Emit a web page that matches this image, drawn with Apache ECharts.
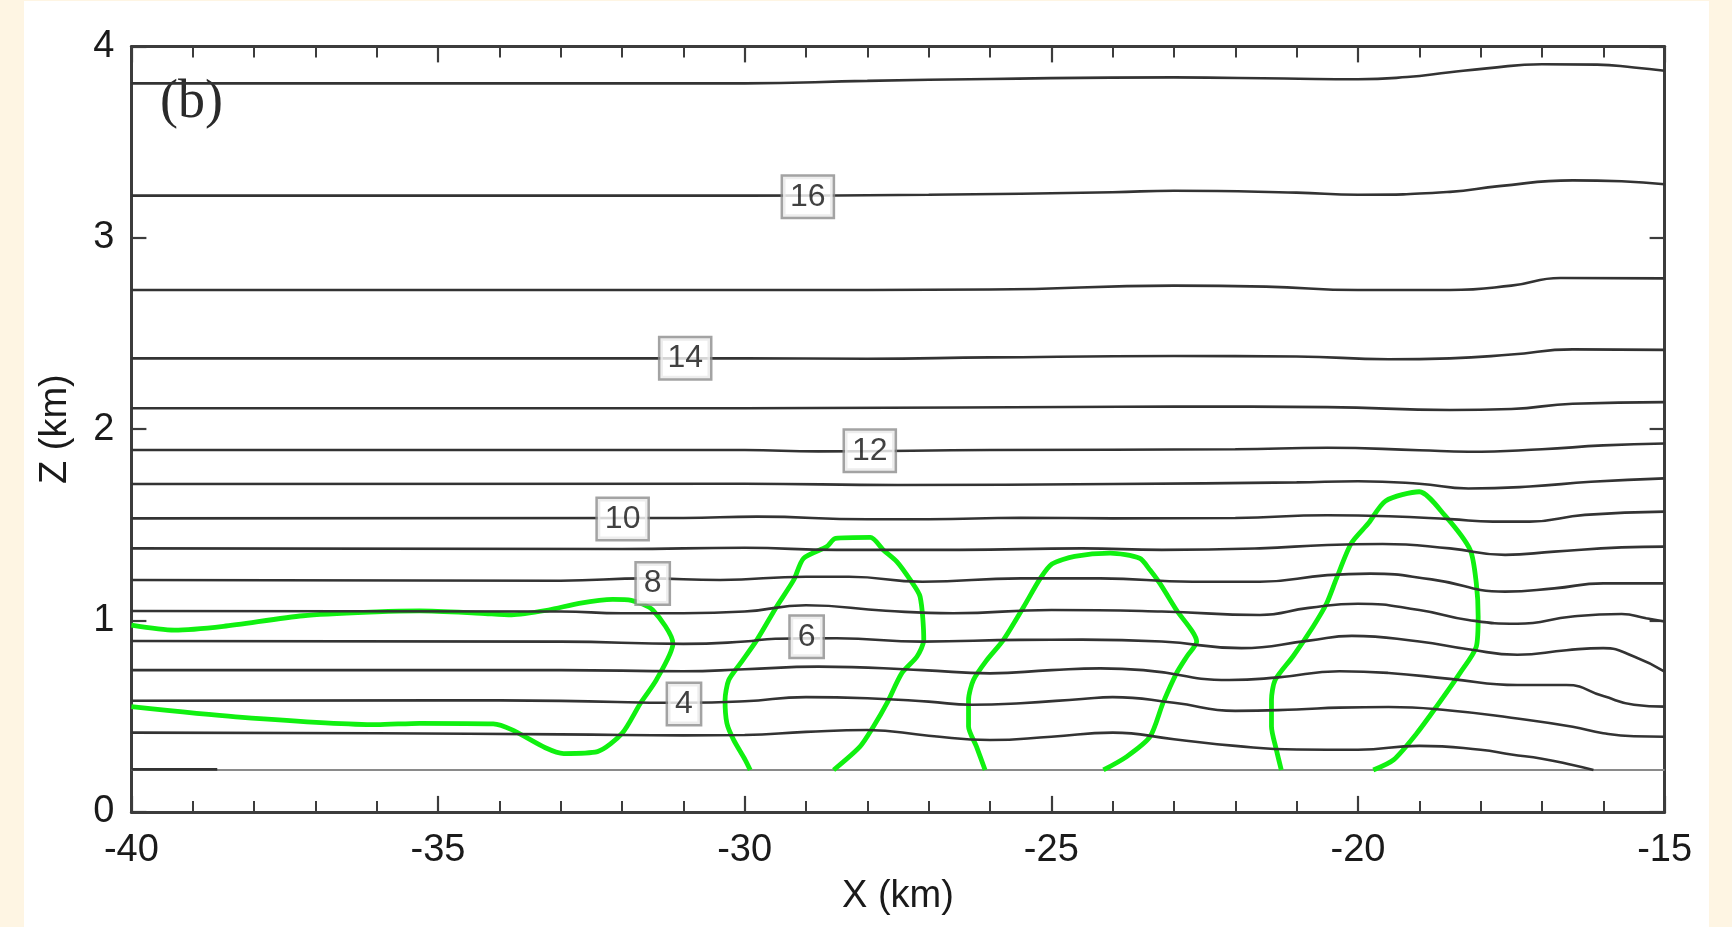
<!DOCTYPE html>
<html>
<head>
<meta charset="utf-8">
<script src="https://cdn.jsdelivr.net/npm/echarts@6/dist/echarts.min.js"></script>
<style>
html,body{margin:0;padding:0;width:1732px;height:927px;background:#fef5e3;overflow:hidden;}
#chart{position:absolute;left:24px;top:1px;width:1685px;height:926px;background:#ffffff;}
</style>
</head>
<body>
<div id="chart"></div>
<script>
// ---- axis ranges / ticks ----
const xRange = [-40, -15];
const zRange = [0, 4];

// ---- black contour lines: [x (km), z (km)] ----
const ground = [[-40,0.219],[-15,0.219]];
const c02 = [[-40,0.222],[-38.6,0.222]];
const c03 = [[-40,0.414],[-36,0.411],[-33,0.405],[-32,0.402],[-31,0.400],[-30,0.402],[-29,0.418],[-28,0.428],[-27,0.398],[-26,0.376],[-25,0.393],[-24,0.414],[-23,0.38],[-22,0.345],[-21,0.326],[-20,0.325],[-19,0.345],[-18,0.325],[-17.5,0.30],[-17,0.278],[-16.5,0.245],[-16.16,0.219]];
const c04 = [[-40,0.581],[-35,0.583],[-33,0.58],[-31,0.57],[-30,0.578],[-29,0.60],[-28,0.594],[-27,0.576],[-26.3,0.56],[-25.5,0.568],[-24.5,0.59],[-24,0.60],[-23,0.57],[-22,0.528],[-21,0.535],[-20.3,0.545],[-19.5,0.548],[-18.5,0.53],[-17.5,0.492],[-16.5,0.445],[-16,0.411],[-15.5,0.395],[-15,0.393]];
const c05 = [[-40,0.741],[-33,0.741],[-31,0.735],[-30,0.745],[-28.8,0.759],[-27.1,0.741],[-26,0.724],[-25,0.741],[-24.2,0.75],[-23.5,0.741],[-22.1,0.689],[-21.3,0.703],[-20.3,0.735],[-19.5,0.726],[-18.5,0.695],[-17.4,0.663],[-16.6,0.663],[-16,0.605],[-15.5,0.56],[-15,0.55]];
const c06 = [[-40,0.893],[-33,0.89],[-31,0.878],[-30,0.89],[-29.5,0.905],[-28.5,0.907],[-27.1,0.89],[-25.5,0.899],[-24.5,0.90],[-23.2,0.89],[-21.9,0.856],[-20.8,0.895],[-20.1,0.92],[-19,0.89],[-18.2,0.85],[-17.4,0.821],[-16.6,0.845],[-16,0.856],[-15.5,0.812],[-15,0.733]];
const c07 = [[-40,1.05],[-33,1.047],[-32,1.038],[-31,1.038],[-30,1.047],[-29,1.08],[-27.7,1.051],[-26.6,1.038],[-25,1.055],[-23.2,1.047],[-21.6,1.029],[-20.8,1.066],[-20,1.088],[-19,1.055],[-18.2,1.003],[-17.4,0.983],[-16.5,1.021],[-15.7,1.034],[-15.3,1.012],[-15,0.995]];
const c08 = [[-40,1.212],[-33,1.208],[-31.6,1.22],[-30.4,1.212],[-29,1.229],[-28.3,1.229],[-27.1,1.203],[-25.5,1.22],[-24.2,1.22],[-22.7,1.203],[-21.6,1.203],[-20.5,1.237],[-19.8,1.245],[-18.8,1.215],[-17.6,1.151],[-16.8,1.168],[-16,1.194],[-15,1.194]];
const c09 = [[-40,1.377],[-32,1.374],[-30,1.38],[-28.5,1.369],[-26.5,1.369],[-24.5,1.377],[-23.2,1.369],[-21.6,1.377],[-20.5,1.395],[-19.6,1.40],[-18.5,1.377],[-17.6,1.343],[-16.8,1.36],[-15.7,1.382],[-15,1.386]];
const c10 = [[-40,1.534],[-31,1.536],[-29.8,1.543],[-28,1.529],[-27,1.529],[-25.5,1.537],[-24,1.534],[-22,1.536],[-20.5,1.55],[-19.5,1.545],[-18.5,1.53],[-17.8,1.517],[-17.2,1.517],[-16.3,1.552],[-15,1.569]];
const c11 = [[-40,1.713],[-30,1.715],[-27.5,1.708],[-24,1.713],[-21,1.722],[-20,1.728],[-19,1.715],[-18.2,1.69],[-17.2,1.70],[-16.2,1.725],[-15,1.743]];
const c12 = [[-40,1.891],[-30,1.891],[-28.8,1.884],[-26,1.891],[-22,1.895],[-20.5,1.903],[-19,1.89],[-18.2,1.882],[-17,1.895],[-16,1.915],[-15,1.925]];
const c13 = [[-40,2.109],[-30,2.109],[-23,2.118],[-20.5,2.115],[-18.5,2.10],[-17.5,2.105],[-16.5,2.133],[-15,2.141]];
const c14 = [[-40,2.370],[-30,2.370],[-28,2.368],[-26,2.375],[-23,2.382],[-21,2.38],[-19.5,2.365],[-18.5,2.37],[-17.5,2.39],[-16.5,2.417],[-15,2.414]];
const c15 = [[-40,2.727],[-30,2.727],[-26,2.73],[-23,2.75],[-21.5,2.745],[-20,2.727],[-18.5,2.727],[-17.5,2.75],[-16.7,2.79],[-15,2.788]];
const c16 = [[-40,3.22],[-30,3.22],[-27,3.225],[-24,3.238],[-23,3.246],[-21,3.236],[-20,3.225],[-18.5,3.24],[-17.7,3.27],[-16.5,3.30],[-15.7,3.295],[-15,3.28]];
const c17 = [[-40,3.807],[-30,3.807],[-28,3.82],[-26,3.83],[-23,3.838],[-21.2,3.832],[-20,3.828],[-19.2,3.84],[-18.5,3.865],[-17.9,3.885],[-17,3.907],[-16.1,3.905],[-15.5,3.89],[-15,3.873]];

// ---- green contours: [x (km), z (km)] ----
const g1 = [[-40,0.976],[-39.3,0.95],[-38.5,0.97],[-37.2,1.025],[-36,1.045],[-35.3,1.05],[-34.3,1.038],[-33.8,1.03],[-33.2,1.055],[-32.7,1.09],[-32.15,1.11],[-31.85,1.105],[-31.5,1.055],[-31.17,0.88],[-31.44,0.69],[-31.7,0.568],[-32.0,0.41],[-32.4,0.315],[-32.95,0.305],[-33.25,0.335],[-33.8,0.43],[-34.1,0.46],[-35.3,0.463],[-36,0.456],[-38.3,0.497],[-40,0.55]];
const g2 = [[-29.91,0.219],[-29.99,0.271],[-30.18,0.376],[-30.29,0.463],[-30.32,0.585],[-30.26,0.689],[-30.07,0.776],[-29.80,0.899],[-29.48,1.072],[-29.2,1.212],[-29.04,1.325],[-28.66,1.386],[-28.52,1.429],[-27.95,1.434],[-27.74,1.369],[-27.52,1.308],[-27.3,1.212],[-27.14,1.125],[-27.08,0.899],[-27.19,0.812],[-27.44,0.724],[-27.68,0.568],[-27.9,0.446],[-28.12,0.341],[-28.55,0.219]];
const g3 = [[-26.08,0.219],[-26.22,0.341],[-26.35,0.446],[-26.35,0.585],[-26.27,0.689],[-26.05,0.794],[-25.78,0.899],[-25.45,1.072],[-25.18,1.220],[-24.99,1.295],[-24.62,1.335],[-24.04,1.352],[-23.56,1.325],[-23.39,1.264],[-23.23,1.194],[-22.96,1.055],[-22.63,0.890],[-22.79,0.812],[-22.96,0.724],[-23.18,0.568],[-23.39,0.393],[-23.77,0.289],[-24.15,0.219]];
const g4 = [[-21.25,0.219],[-21.33,0.324],[-21.41,0.446],[-21.41,0.585],[-21.35,0.689],[-21.06,0.812],[-20.73,0.969],[-20.51,1.090],[-20.35,1.220],[-20.11,1.403],[-19.83,1.508],[-19.55,1.625],[-19.0,1.673],[-18.58,1.548],[-18.17,1.369],[-18.07,1.194],[-18.04,1.021],[-18.07,0.864],[-18.34,0.724],[-18.72,0.550],[-19.04,0.411],[-19.42,0.272],[-19.75,0.219]];

// ---- contour labels ----
const labelText = ['4', '6', '8', '10', '12', '14', '16'];
const labelX = [-30.99, -28.99, -31.5, -31.99, -27.96, -30.97, -28.97];
const labelZ = [0.564, 0.915, 1.194, 1.530, 1.887, 2.370, 3.214];

const FONT = '"Liberation Sans", Arial, Helvetica, sans-serif';
const AX = '#3c3c3c';
const blackLines = [c03, c04, c05, c06, c07, c08, c09, c10, c11, c12, c13, c14, c15, c16, c17];
const greenLines = [g1, g2, g3, g4];

const series = [];
series.push({type:'line', data: ground, showSymbol:false, silent:true, z:1,
  lineStyle:{color:'#8a8a8a', width:2.2}});
series.push({type:'line', data: c02, showSymbol:false, silent:true, z:3,
  lineStyle:{color:'#333333', width:2.6}});
greenLines.forEach(d => series.push({type:'line', data:d, smooth:0.25, showSymbol:false, silent:true, z:2,
  lineStyle:{color:'#10f010', width:4.8}}));
blackLines.forEach(d => series.push({type:'line', data:d, smooth:0.5, showSymbol:false, silent:true, z:3,
  lineStyle:{color:'#333333', width:2.6}}));
series.push({type:'scatter', symbolSize:0, silent:true, z:5,
  data: labelText.map((t,i) => [labelX[i], labelZ[i], t]),
  label:{show:true, position:'inside', formatter: p => p.value[2],
    fontFamily: FONT, fontSize:32, color:'#111111', backgroundColor:'#ffffff',
    borderColor:'#8c8c8c', borderWidth:2.5, padding:[3,7,1,7], lineHeight:36}});

const axisCommonX = {
  type:'value', min:xRange[0], max:xRange[1], interval:5,
  axisLine:{show:true, onZero:false, lineStyle:{color:AX, width:3}},
  axisTick:{show:true, inside:true, length:16, lineStyle:{color:AX, width:2.2}},
  minorTick:{show:true, splitNumber:5, length:11, lineStyle:{color:AX, width:2}},
  splitLine:{show:false}, minorSplitLine:{show:false}
};
const axisCommonY = {
  type:'value', min:zRange[0], max:zRange[1], interval:1,
  axisLine:{show:true, onZero:false, lineStyle:{color:AX, width:3}},
  axisTick:{show:true, inside:true, length:15, lineStyle:{color:AX, width:2.2}},
  splitLine:{show:false}
};

const chart = echarts.init(document.getElementById('chart'), null, {renderer:'canvas'});
chart.setOption({
  animation:false,
  backgroundColor:'#ffffff',
  grid:{left:107.4, top:45.4, width:1533.2, height:765.5, containLabel:false},
  xAxis:[
    Object.assign({}, axisCommonX, {position:'bottom',
      axisLabel:{show:true, fontFamily:FONT, fontSize:38, color:'#1a1a1a', margin:20},
      name:'X (km)', nameLocation:'middle', nameGap:66,
      nameTextStyle:{fontFamily:FONT, fontSize:38, color:'#1a1a1a'}}),
    Object.assign({}, axisCommonX, {position:'top', axisLabel:{show:false}})
  ],
  yAxis:[
    Object.assign({}, axisCommonY, {position:'left',
      axisLabel:{show:true, fontFamily:FONT, fontSize:38, color:'#1a1a1a', margin:17},
      name:'Z (km)', nameLocation:'middle', nameGap:57,
      nameTextStyle:{fontFamily:FONT, fontSize:38, color:'#1a1a1a'}}),
    Object.assign({}, axisCommonY, {position:'right', axisLabel:{show:false}})
  ],
  graphic:[{type:'text', left:136, top:75, silent:true,
    style:{text:'(b)', font:'54px "Liberation Serif", "Times New Roman", serif', fill:'#2a2a2a'}}],
  series: series
});
</script>
</body>
</html>
